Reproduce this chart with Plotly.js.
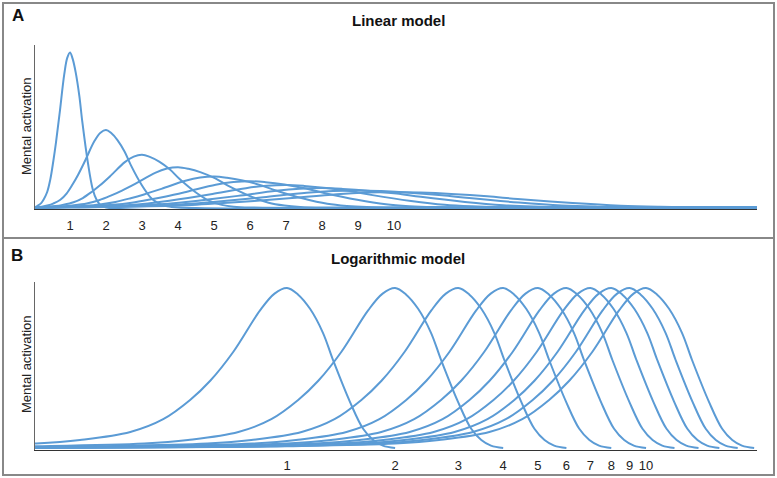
<!DOCTYPE html>
<html>
<head>
<meta charset="utf-8">
<script src="https://cdn.plot.ly/plotly-3.0.1.min.js"></script>
<style>
html,body{margin:0;padding:0;background:#fff;}
#chart{width:777px;height:478px;}
</style>
</head>
<body>
<div id="chart"></div>
<script>
// ---- data ----
const numbers = [1, 2, 3, 4, 5, 6, 7, 8, 9, 10];
const tickLabels = ['1', '2', '3', '4', '5', '6', '7', '8', '9', '10'];

// Activation profile of the curve for "1" (x in number units, height relative to its peak)
const shapeX = [0, 0.02, 0.05, 0.1, 0.2, 0.265, 0.366, 0.452, 0.537, 0.611, 0.708, 0.841, 0.923, 1.0, 1.072, 1.159, 1.259, 1.343, 1.496, 1.629, 1.738, 1.849, 2.0];
const shapeY = [0, 0.001, 0.004, 0.011, 0.028, 0.05, 0.10, 0.18, 0.30, 0.42, 0.60, 0.86, 0.965, 1.0, 0.96, 0.87, 0.72, 0.55, 0.29, 0.12, 0.05, 0.015, 0];

// Panel A (linear model): peak heights of curves 1..10, relative to curve 1
const linPeaks = [1, 0.5, 0.34, 0.26, 0.2, 0.17, 0.145, 0.125, 0.11, 0.1];
const linAxisEnd = 20.08;
// Panel B (logarithmic model): peak heights of curves 1..10
const logPeaks = [1, 1, 1, 1, 1, 1, 1, 1, 1, 1];

// ---- build traces ----
const blue = 'rgb(91,155,213)';
const lineStyle = {color: blue, width: 2, shape: 'spline', smoothing: 1};
const traces = [];
numbers.forEach((n, i) => {
  const xs = shapeX.map(v => v * n);
  const ys = shapeY.map(v => v * linPeaks[i]);
  if (xs[xs.length - 1] < linAxisEnd) { xs.push(linAxisEnd); ys.push(0); }
  traces.push({x: xs, y: ys, xaxis: 'x', yaxis: 'y', mode: 'lines',
    line: lineStyle, hoverinfo: 'skip', showlegend: false});
});
numbers.forEach((n, i) => {
  const xs = [], ys = [];
  shapeX.forEach((v, k) => { if (v > 0) { xs.push(v * n); ys.push(shapeY[k] * logPeaks[i]); } });
  traces.push({x: xs, y: ys, xaxis: 'x2', yaxis: 'y2', mode: 'lines',
    line: lineStyle, hoverinfo: 'skip', showlegend: false});
});

const W = 777, H = 478;
const px = v => v / W;
const py = v => 1 - v / H;

const FONT = 'Liberation Sans, Arial, sans-serif';
const tickFont = {family: FONT, size: 13, color: '#222'};
const xCommon = {
  tickmode: 'array', tickvals: numbers, ticktext: tickLabels, ticks: '',
  showgrid: false, zeroline: false, showline: true, linecolor: '#333', linewidth: 1.2,
  tickfont: tickFont, ticklabelstandoff: 4, fixedrange: true
};
const yCommon = {
  showgrid: false, zeroline: false, showline: true, linecolor: '#666', linewidth: 1.5,
  showticklabels: false, ticks: '', fixedrange: true
};

function note(text, x, y, size, extra) {
  return Object.assign({text: text, xref: 'paper', yref: 'paper', x: px(x), y: py(y),
    xanchor: 'center', yanchor: 'middle', showarrow: false,
    font: {family: FONT, size: size, color: '#111'}}, extra || {});
}

const layout = {
  width: W, height: H,
  margin: {l: 0, r: 0, t: 0, b: 0},
  paper_bgcolor: '#fff', plot_bgcolor: 'rgba(0,0,0,0)',
  showlegend: false,
  xaxis: Object.assign({}, xCommon, {domain: [px(35), px(757)], range: [1/36, linAxisEnd], anchor: 'y'}),
  yaxis: Object.assign({}, yCommon, {domain: [py(209), py(45)], range: [-0.0097, 1.048], anchor: 'x'}),
  xaxis2: Object.assign({}, xCommon, {type: 'log', domain: [px(35), px(757)], range: [-0.702, 1.309], anchor: 'y2'}),
  yaxis2: Object.assign({}, yCommon, {domain: [py(449.5), py(282)], range: [-0.0094, 1.0375], anchor: 'x2'}),
  shapes: [
    {type: 'rect', xref: 'paper', yref: 'paper', x0: px(3), x1: px(774), y0: py(238), y1: py(3),
     line: {color: '#888', width: 2}},
    {type: 'rect', xref: 'paper', yref: 'paper', x0: px(3), x1: px(774), y0: py(475), y1: py(238),
     line: {color: '#888', width: 2}}
  ],
  annotations: [
    note('<b>A</b>', 18, 16, 17),
    note('<b>B</b>', 17, 256, 17),
    note('<b>Linear model</b>', 398, 20, 15),
    note('<b>Logarithmic model</b>', 398, 258, 15),
    note('Mental activation', 26, 126, 13, {textangle: -90, font: {family: FONT, size: 13, color: '#222'}}),
    note('Mental activation', 26, 364, 13, {textangle: -90, font: {family: FONT, size: 13, color: '#222'}})
  ]
};

Plotly.newPlot('chart', traces, layout, {displayModeBar: false, staticPlot: true});
</script>
</body>
</html>
